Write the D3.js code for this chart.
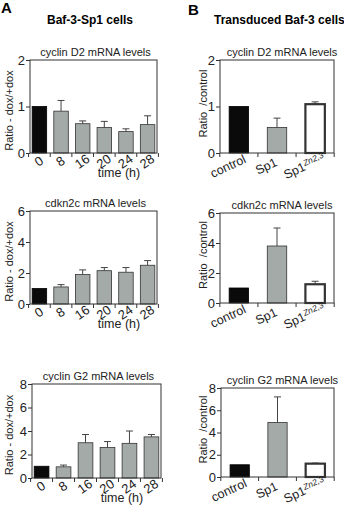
<!DOCTYPE html>
<html>
<head>
<meta charset="utf-8">
<script src="https://cdn.jsdelivr.net/npm/d3@7"></script>
<style>
  body { margin: 0; background: #fff; }
  svg { display: block; font-family: "Liberation Sans", Arial, sans-serif; }
</style>
</head>
<body>
<script>
// data
var timeLabels = ["0", "8", "16", "20", "24", "28"];
var groups = ["control", "Sp1", "Sp1Zn"];

var d2Time = [1.0, 0.9, 0.63, 0.55, 0.46, 0.61];
var d2TimeErr = [0, 0.23, 0.06, 0.13, 0.06, 0.19];
var cdkTime = [1.0, 1.1, 1.9, 2.15, 2.05, 2.5];
var cdkTimeErr = [0, 0.15, 0.3, 0.2, 0.3, 0.3];
var g2Time = [1.0, 0.95, 3.0, 2.6, 2.95, 3.5];
var g2TimeErr = [0, 0.15, 0.7, 0.5, 1.05, 0.2];

var d2Group = [1.0, 0.55, 1.05];
var d2GroupErr = [0, 0.2, 0.05];
var cdkGroup = [1.0, 3.8, 1.25];
var cdkGroupErr = [0, 1.2, 0.2];
var g2Group = [1.1, 4.9, 1.2];
var g2GroupErr = [0, 2.3, 0.05];

var yTicks2 = [0, 1, 2];
var yTicks6 = [0, 2, 4, 6];
var yTicks8 = [0, 2, 4, 6, 8];

var grey = "#a3aaa8";

var svg = d3.select("body").append("svg").attr("width", 344).attr("height", 514);

// panel letters and headers
svg.append("text").attr("x", 1).attr("y", 13).attr("font-size", 15).attr("font-weight", "bold").text("A");
svg.append("text").attr("x", 188).attr("y", 15).attr("font-size", 15).attr("font-weight", "bold").text("B");
svg.append("text").attr("x", 90).attr("y", 24).attr("text-anchor", "middle")
    .attr("font-size", 12).attr("font-weight", "bold").text("Baf-3-Sp1 cells");
svg.append("text").attr("x", 214).attr("y", 24)
    .attr("font-size", 12).attr("font-weight", "bold").text("Transduced Baf-3 cells");

function panel(opt) {
    var g = svg.append("g");
    var x = d3.scaleBand().domain(opt.cats).range([opt.x0, opt.x1])
        .paddingInner(opt.pin).paddingOuter(opt.pout);
    var y = d3.scaleLinear().domain([0, opt.max]).range([opt.y1, opt.y0]);

    // title
    g.append("text").attr("x", (opt.x0 + opt.x1) / 2 + opt.titleDx).attr("y", opt.y0 - 4)
        .attr("text-anchor", "middle").attr("font-size", 11).attr("fill", "#222").text(opt.title);

    // bars
    var rows = opt.cats.map(function (c, i) { return { c: c, v: opt.vals[i], e: opt.errs[i], i: i }; });
    g.selectAll("line.err").data(rows.filter(function (d) { return d.e > 0; })).enter()
        .append("line")
        .attr("x1", function (d) { return x(d.c) + x.bandwidth() / 2; })
        .attr("x2", function (d) { return x(d.c) + x.bandwidth() / 2; })
        .attr("y1", function (d) { return y(d.v); })
        .attr("y2", function (d) { return y(d.v + d.e); })
        .attr("stroke", "#444").attr("stroke-width", 1);
    g.selectAll("line.cap").data(rows.filter(function (d) { return d.e > 0; })).enter()
        .append("line")
        .attr("x1", function (d) { return x(d.c) + x.bandwidth() / 2 - 3.5; })
        .attr("x2", function (d) { return x(d.c) + x.bandwidth() / 2 + 3.5; })
        .attr("y1", function (d) { return y(d.v + d.e); })
        .attr("y2", function (d) { return y(d.v + d.e); })
        .attr("stroke", "#444").attr("stroke-width", 1);

    g.selectAll("rect.bar").data(rows).enter().append("rect")
        .attr("x", function (d) { return x(d.c); })
        .attr("y", function (d) { return y(d.v); })
        .attr("width", x.bandwidth())
        .attr("height", function (d) { return y(0) - y(d.v); })
        .attr("fill", function (d) {
            if (d.i === 0) { return "#0a0a0a"; }
            else if (opt.white && d.i === 2) { return "#fff"; }
            else { return grey; }
        })
        .attr("stroke", function (d) { return d.i === 0 ? "#000" : "#333"; })
        .attr("stroke-width", function (d) { return (opt.white && d.i === 2) ? 2.2 : 0.8; });

    // frame
    g.append("rect").attr("x", opt.x0).attr("y", opt.y0)
        .attr("width", opt.x1 - opt.x0).attr("height", opt.y1 - opt.y0)
        .attr("fill", "none").attr("stroke", "#333").attr("stroke-width", 1);

    // y axis
    var ya = g.append("g").attr("transform", "translate(" + opt.x0 + ",0)")
        .call(d3.axisLeft(y).tickValues(opt.ticks).tickSize(4).tickPadding(1).tickFormat(d3.format("d")));
    ya.select(".domain").remove();
    ya.selectAll("line").attr("stroke", "#333");
    ya.selectAll("text").attr("font-size", 13).attr("fill", "#222")
        .attr("font-family", "'Liberation Sans', Arial, sans-serif");

    // x ticks between bars
    var step = x.step();
    var bounds = opt.cats.map(function (c) { return x(c) - step * opt.pin / 2; });
    bounds.push(x(opt.cats[opt.cats.length - 1]) + x.bandwidth() + step * opt.pin / 2);
    g.selectAll("line.xt").data(bounds).enter().append("line")
        .attr("x1", function (d) { return d; }).attr("x2", function (d) { return d; })
        .attr("y1", opt.y1).attr("y2", opt.y1 + 4)
        .attr("stroke", "#333");

    // x labels (tilted)
    var lab = g.selectAll("text.xl").data(opt.cats).enter().append("text")
        .attr("font-size", opt.labSize).attr("fill", "#222")
        .attr("text-anchor", "middle")
        .attr("transform", function (c) {
            var cx = x(c) + x.bandwidth() / 2 + opt.labDx;
            return "translate(" + cx + "," + (opt.y1 + opt.labDy) + ") rotate(" + opt.rot + ")";
        });
    lab.each(function (c) {
        var t = d3.select(this);
        if (c === "Sp1Zn") {
            t.append("tspan").text("Sp1");
            t.append("tspan").attr("font-size", 8.5).attr("dy", -4).attr("font-style", "italic").text("Zn2,3");
        } else {
            t.text(c);
        }
    });

    if (opt.xTitle) {
        g.append("text").attr("x", opt.xtX).attr("y", opt.y1 + opt.xtDy)
            .attr("text-anchor", "middle").attr("font-size", 12.5).attr("fill", "#222").text(opt.xTitle);
    }

    // y title
    g.append("text")
        .attr("transform", "translate(" + opt.ytX + "," + ((opt.y0 + opt.y1) / 2 + opt.ytDy) + ") rotate(-90)")
        .attr("text-anchor", "middle").attr("font-size", 11).attr("fill", "#222")
        .attr("xml:space", "preserve").style("white-space", "pre")
        .text(opt.yTitle);
}

var aBase = { cats: timeLabels, x0: 30, x1: 157, pin: 0.33, pout: 0.1, rot: -35, labDx: 2, labDy: 12,
    labSize: 13, xTitle: "time (h)", xtDy: 24, xtX: 119, yTitle: "Ratio - dox/+dox", ytX: 13, ytDy: 4, titleDx: 2 };
var bBase = { cats: groups, x0: 220, x1: 334, pin: 0.49, pout: 0.24, rot: -25, labDx: -9, labDy: 17,
    labSize: 12.5, white: true, yTitle: "Ratio  /control", ytX: 207, ytDy: -3, titleDx: 5 };

panel(Object.assign({}, aBase, { title: "cyclin D2 mRNA levels", y0: 60, y1: 153, max: 2, ticks: yTicks2, vals: d2Time, errs: d2TimeErr }));
panel(Object.assign({}, aBase, { title: "cdkn2c mRNA levels", y0: 211, y1: 304, max: 6, ticks: yTicks6, vals: cdkTime, errs: cdkTimeErr }));
panel(Object.assign({}, aBase, { title: "cyclin G2 mRNA levels", y0: 384, y1: 478, x0: 32, x1: 161, max: 8, ticks: yTicks8, vals: g2Time, errs: g2TimeErr, xtX: 122 }));

panel(Object.assign({}, bBase, { title: "cyclin D2 mRNA levels", y0: 60, y1: 153, max: 2, ticks: yTicks2, vals: d2Group, errs: d2GroupErr }));
panel(Object.assign({}, bBase, { title: "cdkn2c mRNA levels", y0: 213, y1: 303, max: 6, ticks: yTicks6, vals: cdkGroup, errs: cdkGroupErr }));
panel(Object.assign({}, bBase, { title: "cyclin G2 mRNA levels", y0: 388, y1: 477, x0: 221, max: 8, ticks: yTicks8, vals: g2Group, errs: g2GroupErr }));
</script>
</body>
</html>
